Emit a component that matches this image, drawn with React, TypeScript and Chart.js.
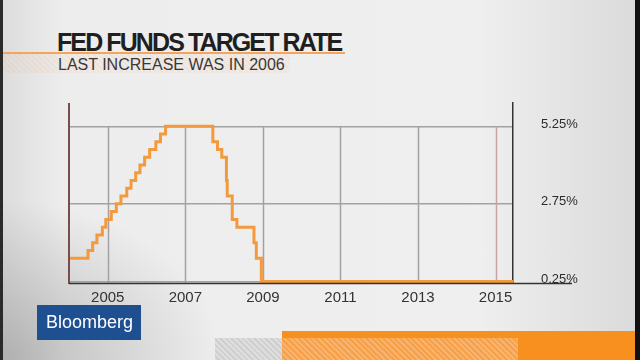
import React, { useEffect, useRef } from "react";
import { Chart, registerables } from "chart.js";

Chart.register(...registerables);

// Change dates (decimal years) and the new target rate (%) after each change
const CHANGE_DATES = [
  2004.0, 2004.49, 2004.61, 2004.72, 2004.86, 2004.95,
  2005.09, 2005.22, 2005.34, 2005.49, 2005.6, 2005.72, 2005.83, 2005.95,
  2006.08, 2006.24, 2006.36, 2006.49,
  2007.71, 2007.83, 2007.94,
  2008.06, 2008.08, 2008.21, 2008.33, 2008.77, 2008.83, 2008.96,
  2015.45,
];
const RATES = [
  1.0, 1.25, 1.5, 1.75, 2.0, 2.25,
  2.5, 2.75, 3.0, 3.25, 3.5, 3.75, 4.0, 4.25,
  4.5, 4.75, 5.0, 5.25,
  4.75, 4.5, 4.25,
  3.5, 3.0, 2.25, 2.0, 1.5, 1.0, 0.25,
  0.25,
];
const X_TICKS = [2005, 2007, 2009, 2011, 2013, 2015];
const Y_TICKS = [0.25, 2.75, 5.25];
const X_MIN = 2004.0;
const X_MAX = 2015.45;
const Y_MIN = 0.2;
const Y_MAX = 6.0;
const TITLE = "FED FUNDS TARGET RATE";
const SUBTITLE = "LAST INCREASE WAS IN 2006";

const frame = {
  id: "frame",
  beforeDatasetsDraw(chart: any) {
    const { ctx, chartArea, scales } = chart;
    const x = scales.x;
    const y = scales.y;
    const topGrid = y.getPixelForValue(Y_TICKS[Y_TICKS.length - 1]);
    ctx.save();
    X_TICKS.forEach((v, i) => {
      const px = Math.round(x.getPixelForValue(v)) + 0.5;
      ctx.beginPath();
      ctx.strokeStyle = i === X_TICKS.length - 1 ? "#c9a3a3" : "#a2a2a2";
      ctx.lineWidth = 1.5;
      ctx.moveTo(px, topGrid);
      ctx.lineTo(px, chartArea.bottom);
      ctx.stroke();
    });
    ctx.restore();
  },
  afterDatasetsDraw(chart: any) {
    const { ctx, chartArea } = chart;
    ctx.save();
    // left axis line
    ctx.beginPath();
    ctx.strokeStyle = "#7a4c4c";
    ctx.lineWidth = 2;
    ctx.moveTo(chartArea.left, chartArea.top);
    ctx.lineTo(chartArea.left, chartArea.bottom + 1);
    ctx.stroke();
    // bottom axis line extended under the right labels
    ctx.beginPath();
    ctx.strokeStyle = "#333333";
    ctx.lineWidth = 1.5;
    ctx.moveTo(chartArea.left, chartArea.bottom + 0.5);
    ctx.lineTo(chartArea.right + 59, chartArea.bottom + 0.5);
    ctx.stroke();
    ctx.restore();
  },
};

function FedChart() {
  const ref = useRef<HTMLCanvasElement>(null);
  useEffect(() => {
    if (!ref.current) return;
    const data = CHANGE_DATES.map((d, i) => ({ x: d, y: RATES[i] }));
    const chart = new Chart(ref.current, {
      type: "line",
      data: {
        datasets: [
          {
            data,
            borderColor: "#f39a3e",
            borderWidth: 3,
            pointRadius: 0,
            stepped: "before",
            fill: false,
          },
        ],
      },
      options: {
        animation: false,
        responsive: false,
        maintainAspectRatio: false,
        layout: { padding: { left: 69, top: 103, right: 0, bottom: 0 } },
        plugins: { legend: { display: false }, tooltip: { enabled: false } },
        scales: {
          x: {
            type: "linear",
            min: X_MIN,
            max: X_MAX,
            afterBuildTicks: (s: any) => {
              s.ticks = X_TICKS.map((v) => ({ value: v }));
            },
            afterFit: (s: any) => {
              s.height = 77;
            },
            grid: { display: false, drawTicks: false },
            border: { display: false },
            ticks: {
              padding: 6,
              color: "#333333",
              font: { family: "'Liberation Sans', Arial, sans-serif", size: 15 },
              callback: (v: any) => String(v),
              maxRotation: 0,
            },
          },
          y: {
            type: "linear",
            position: "right",
            min: Y_MIN,
            max: Y_MAX,
            afterBuildTicks: (s: any) => {
              s.ticks = Y_TICKS.map((v) => ({ value: v }));
            },
            afterFit: (s: any) => {
              s.width = 127;
            },
            grid: { color: "#a2a2a2", lineWidth: 1.5, drawTicks: false },
            border: { display: true, color: "#333333", width: 1.5 },
            ticks: {
              padding: 28,
              labelOffset: -2,
              color: "#2c2c2c",
              font: { family: "'Liberation Sans', Arial, sans-serif", size: 13 },
              callback: (v: any) => Number(v).toFixed(2) + "%",
            },
          },
        },
      },
      plugins: [frame],
    });
    return () => chart.destroy();
  }, []);
  return (
    <canvas
      ref={ref}
      width={640}
      height={360}
      style={{ position: "absolute", left: 0, top: 0, width: 640, height: 360 }}
    />
  );
}

const hatch = (c1: string, c2: string) =>
  `repeating-linear-gradient(45deg, ${c1} 0px, ${c1} 2px, ${c2} 2px, ${c2} 4px)`;

export default function App() {
  return (
    <div
      style={{
        position: "fixed",
        left: 0,
        top: 0,
        width: 640,
        height: 360,
        overflow: "hidden",
        background:
          "radial-gradient(ellipse 220px 160px at 0px 360px, rgba(120,120,120,0.45), rgba(120,120,120,0) 100%), linear-gradient(to right, #dcdcdc 0%, #ededed 10%, #efefef 75%, #dadada 100%)",
        fontFamily: "'Liberation Sans', Arial, sans-serif",
      }}
    >
      {/* edges */}
      <div style={{ position: "absolute", left: 0, top: 0, width: 3, height: 360, background: "#2a2a2a" }} />
      <div style={{ position: "absolute", left: 635, top: 0, width: 5, height: 360, background: "#111" }} />
      {/* subtitle band */}
      <div
        style={{
          position: "absolute",
          left: 3,
          top: 54,
          width: 287,
          height: 19,
          background: hatch("rgba(245,170,110,0.14)", "rgba(245,170,110,0.05)"),
        }}
      />
      <div style={{ position: "absolute", left: 3, top: 52, width: 342, height: 2, background: "#f5a45c" }} />
      <div
        style={{
          position: "absolute",
          left: 57,
          top: 30,
          fontSize: 25,
          lineHeight: "25px",
          fontWeight: 700,
          letterSpacing: "-1.9px",
          color: "#1f1f1f",
          whiteSpace: "nowrap",
        }}
      >
        {TITLE}
      </div>
      <div
        style={{
          position: "absolute",
          left: 58,
          top: 56.5,
          fontSize: 16,
          lineHeight: "16px",
          color: "#383838",
          whiteSpace: "nowrap",
        }}
      >
        {SUBTITLE}
      </div>
      <FedChart />
      {/* Bloomberg box */}
      <div
        style={{
          position: "absolute",
          left: 37,
          top: 305,
          width: 104,
          height: 35,
          background: "#1d4f91",
        }}
      >
        <div
          style={{
            position: "absolute",
            left: 9,
            top: 8,
            fontSize: 18,
            lineHeight: "18px",
            color: "#ffffff",
            whiteSpace: "nowrap",
          }}
        >
          Bloomberg
        </div>
      </div>
      {/* bottom bars */}
      <div
        style={{
          position: "absolute",
          left: 215,
          top: 338,
          width: 67,
          height: 22,
          background: hatch("#dedede", "#cfcfcf"),
        }}
      />
      <div style={{ position: "absolute", left: 282, top: 331, width: 353, height: 29, background: "#f7901e" }} />
      <div
        style={{
          position: "absolute",
          left: 282,
          top: 338,
          width: 236,
          height: 22,
          background: hatch("#f9b36c", "#f7a04a"),
        }}
      />
    </div>
  );
}
